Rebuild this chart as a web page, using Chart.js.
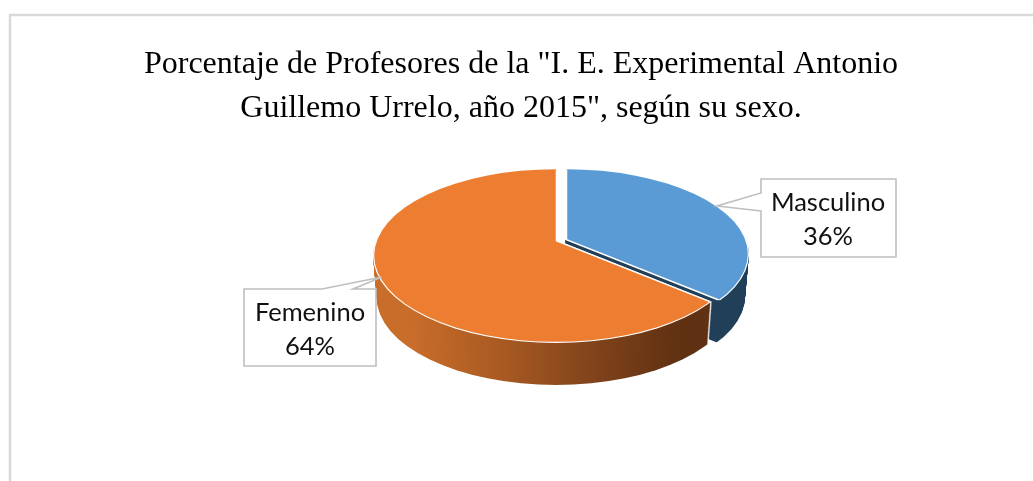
<!DOCTYPE html>
<html><head><meta charset="utf-8">
<style>html,body{margin:0;padding:0;background:#fff}canvas{display:block}</style>
<script src="https://cdn.jsdelivr.net/npm/chart.js@4"></script>
</head><body><canvas id="c" width="1033" height="481"></canvas>
<script>
const categories = ['Masculino', 'Femenino'];
const values = [36, 64];
const titleLines = ['Porcentaje de Profesores de la "I. E. Experimental Antonio', 'Guillemo Urrelo, año 2015", según su sexo.'];
const topColors = ['#5b9bd5', '#ed7d31'];

const TILT = 0.479, DEPTH = 42, TAPER = 0.00048, TAPER_X = 560;
const geom = [
  { ax: 566, ay: 239.5, cx: 566, cy: 254, rx: 183, ry: 86 },
  { ax: 557, ay: 241, cx: 556, cy: 255.5, rx: 183, ry: 87.5 }
];
const callouts = [
  { poly: [[761,179],[896,179],[896,257],[761,257],[761,211],[717,206],[761,193]], text: [828, 203, 237] },
  { poly: [[244,289],[322,289],[382,277],[353,289],[376,289],[376,366],[244,366]], text: [310, 313, 347] }
];

function drawArc(arc, ctx, over) {
  const p = Object.create(arc);
  p.options = Object.assign({}, arc.options, over);
  p.draw(ctx);
}
function slice(ctx, arc, g, d, shrink, over) {
  const s = 1 - TAPER * d;
  ctx.save();
  ctx.translate(TAPER_X, 0); ctx.scale(s, 1); ctx.translate(-TAPER_X, d);
  ctx.beginPath();
  ctx.ellipse(g.cx, g.cy, g.rx - shrink, g.ry - shrink, 0, 0, Math.PI * 2);
  ctx.clip();
  ctx.translate(g.ax, g.ay); ctx.scale(1, TILT); ctx.translate(-arc.x, -arc.y);
  drawArc(arc, ctx, over);
  ctx.restore();
}

const pie3d = {
  id: 'pie3d',
  beforeDraw(chart) {
    const { ctx, width, height } = chart;
    ctx.save();
    ctx.strokeStyle = '#d9d9d9'; ctx.lineWidth = 2.5;
    ctx.beginPath(); ctx.moveTo(10, height); ctx.lineTo(10, 15); ctx.lineTo(width, 15); ctx.stroke();
    ctx.restore();
  },
  beforeDatasetsDraw(chart) {
    const { ctx } = chart;
    const arcs = chart.getDatasetMeta(0).data;
    const orangeWall = ctx.createLinearGradient(373, 0, 710, 0);
    orangeWall.addColorStop(0, '#c96d2a');
    orangeWall.addColorStop(0.27, '#a95a22');
    orangeWall.addColorStop(0.55, '#80431b');
    orangeWall.addColorStop(0.8, '#603112');
    orangeWall.addColorStop(1, '#5f3012');
    const walls = ['#234059', orangeWall];
    [0, 1].forEach(i => {
      if (i === 1) {
        // white seam along the cut face of the slice
        for (let d = DEPTH; d >= 1; d -= 1) {
          slice(ctx, arcs[i], geom[i], d, 0, { backgroundColor: 'rgba(255,255,255,0)', borderColor: '#fff', borderWidth: 5 });
        }
      }
      for (let d = DEPTH; d >= 1; d--) {
        slice(ctx, arcs[i], geom[i], d, 0, { backgroundColor: walls[i], borderWidth: 0 });
      }
      slice(ctx, arcs[i], geom[i], 0, 0, { backgroundColor: '#fff', borderWidth: 0 });
      slice(ctx, arcs[i], geom[i], 0, 1.2, { backgroundColor: topColors[i], borderColor: '#fff', borderWidth: 2.5 });
    });
    return false;
  },
  afterDraw(chart) {
    const { ctx } = chart;
    callouts.forEach((c, i) => {
      ctx.save();
      ctx.beginPath();
      c.poly.forEach((p, j) => j ? ctx.lineTo(p[0], p[1]) : ctx.moveTo(p[0], p[1]));
      ctx.closePath();
      ctx.fillStyle = '#fff'; ctx.fill();
      ctx.strokeStyle = '#bfbfbf'; ctx.lineWidth = 1.6; ctx.stroke();
      ctx.fillStyle = '#111';
      ctx.font = '25.5px Lato';
      ctx.textAlign = 'center'; ctx.textBaseline = 'middle';
      ctx.fillText(categories[i], c.text[0], c.text[1]);
      ctx.fillText(values[i] + '%', c.text[0], c.text[2]);
      ctx.restore();
    });
  }
};

new Chart(document.getElementById('c'), {
  type: 'pie',
  plugins: [pie3d],
  data: { labels: categories, datasets: [{ data: values, backgroundColor: topColors, radius: 320 }] },
  options: {
    responsive: false,
    animation: false,
    layout: { padding: { left: 9, top: 0 } },
    plugins: {
      legend: { display: false },
      tooltip: { enabled: false },
      title: {
        display: true,
        text: titleLines,
        color: '#000',
        font: { family: '"Liberation Serif"', size: 32, weight: 'normal', lineHeight: 1.36 },
        padding: { top: 43, bottom: 0 }
      }
    }
  }
});
</script></body></html>
